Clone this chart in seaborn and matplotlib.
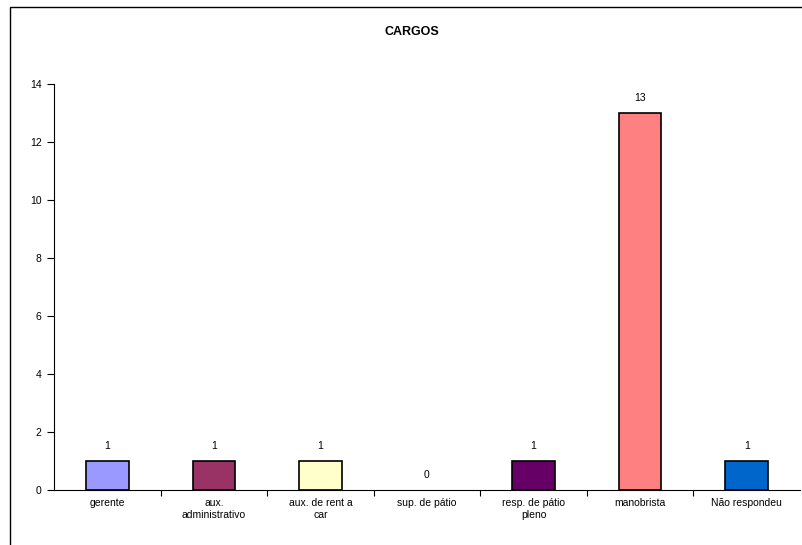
import matplotlib
matplotlib.use("Agg")
from matplotlib import pyplot as plt
from matplotlib.patches import Rectangle
from matplotlib.ticker import FixedLocator, MultipleLocator
import pandas as pd
import seaborn as sns

# --- data
cargos = ['gerente', 'aux.\nadministrativo', 'aux. de rent a\ncar', 'sup. de pátio',
          'resp. de pátio\npleno', 'manobrista', 'Não respondeu']
contagem = [1, 1, 1, 0, 1, 13, 1]
cores = ['#9999FF', '#993366', '#FFFFCC', '#FFFFFF', '#660066', '#FF8080', '#0066CC']

df = pd.DataFrame({'cargo': cargos, 'n': contagem})

sns.set_style("white")
plt.rcParams['font.family'] = ['Liberation Sans', 'DejaVu Sans']
plt.rcParams['text.color'] = 'black'
plt.rcParams['xtick.color'] = 'black'
plt.rcParams['ytick.color'] = 'black'

fig = plt.figure(figsize=(8.03, 5.45), dpi=100)
W, H = 803, 545
ax = fig.add_axes([54 / W, 1 - 490 / H, (800 - 54) / W, (490 - 84) / H])

sns.barplot(data=df, x='cargo', y='n', hue='cargo', palette=cores, legend=False,
            width=0.4, saturation=1, edgecolor='black', linewidth=1.2, ax=ax)

# a zero bar shows nothing in the original
for p in ax.patches:
    if p.get_height() == 0:
        p.set_linewidth(0)

ax.set_ylim(0, 14)
ax.set_xlim(-0.5, len(cargos) - 0.5)
ax.yaxis.set_major_locator(MultipleLocator(2))
ax.set_xlabel('')
ax.set_ylabel('')

# ticks between categories, like excel
ax.xaxis.set_minor_locator(FixedLocator([i + 0.5 for i in range(len(cargos) - 1)]))
ax.tick_params(axis='x', which='major', length=0, labelsize=7.5, pad=6)
ax.tick_params(axis='x', which='minor', length=4, width=0.8, direction='out', bottom=True)
ax.tick_params(axis='y', length=5, width=0.8, direction='out', left=True, labelsize=7.5, pad=4)

for side in ['top', 'right']:
    ax.spines[side].set_visible(False)
for side in ['left', 'bottom']:
    ax.spines[side].set_color('black')
    ax.spines[side].set_linewidth(0.8)

for i, v in enumerate(contagem):
    ax.annotate(str(v), (i, v), xytext=(0, 11), textcoords='offset points',
                ha='center', va='center', fontsize=7.5)

fig.text(412 / W, 1 - 32 / H, 'CARGOS', ha='center', va='center',
         fontsize=9, fontweight='bold')

# outer chart border (runs off the right and bottom)
fig.patches.append(Rectangle((10.5 / W, -0.1), 1.2, 1 - 6.5 / H + 0.1,
                             transform=fig.transFigure, fill=False,
                             edgecolor='black', linewidth=1.0))

fig.savefig('out.png', dpi=100)
